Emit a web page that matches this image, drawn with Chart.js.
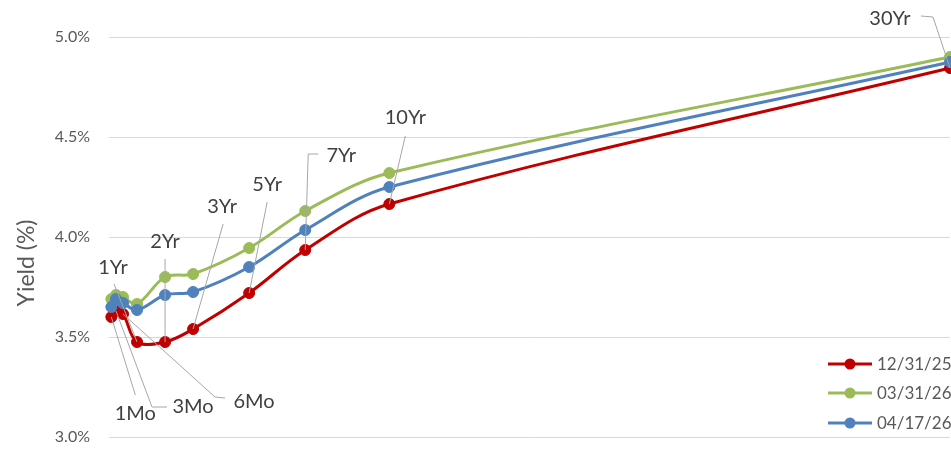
<!DOCTYPE html>
<html>
<head>
<meta charset="utf-8">
<script src="https://cdn.jsdelivr.net/npm/chart.js@4/dist/chart.umd.min.js"></script>
<style>
  html, body { margin: 0; padding: 0; background: #ffffff; }
  #wrap { position: relative; width: 951px; height: 473px; }
</style>
</head>
<body>
<div id="wrap"><canvas id="curve"></canvas></div>
<script>
// Treasury yield curve: maturity (years) vs. yield (%)
const tenorLabels = ['1Mo', '3Mo', '6Mo', '1Yr', '2Yr', '3Yr', '5Yr', '7Yr', '10Yr', '30Yr'];
const tenorYears  = [1/12, 3/12, 6/12, 1, 2, 3, 5, 7, 10, 30];

const dateLabels = ['12/31/25', '03/31/26', '04/17/26'];
const yieldsDec31 = [3.60, 3.63, 3.615, 3.475, 3.475, 3.54, 3.72, 3.935, 4.165, 4.845];
const yieldsMar31 = [3.69, 3.71, 3.70, 3.665, 3.80, 3.815, 3.945, 4.13, 4.32, 4.90];
const yieldsApr17 = [3.65, 3.69, 3.67, 3.635, 3.71, 3.725, 3.85, 4.035, 4.25, 4.875];

const yTicks = [3.0, 3.5, 4.0, 4.5, 5.0];

const seriesColors = ['#C00000', '#9BBB59', '#4F81BD'];
const FONT = "Lato, 'Open Sans', 'DejaVu Sans', sans-serif";

function toPoints(values) {
  return values.map((v, i) => ({ x: tenorYears[i], y: v }));
}

// Where each tenor label sits relative to its 12/31/25 point (px),
// with the leader path drawn from the label back to the point.
const labelLayout = {
  '1Mo':  { text: [24, 97],   leader: [[24, 78]] },
  '3Mo':  { text: [77, 96],   leader: [[51, 96], [36, 96]] },
  '6Mo':  { text: [131, 88],  leader: [[102, 84], [92, 83]] },
  '1Yr':  { text: [-24, -74], leader: [[-23, -58]] },
  '2Yr':  { text: [0, -100],  leader: [[0, -83]] },
  '3Yr':  { text: [29, -122], leader: [[30, -105]] },
  '5Yr':  { text: [18, -108], leader: [[18, -91]] },
  '7Yr':  { text: [36, -94],  leader: [[13, -96], [3, -96]] },
  '10Yr': { text: [16, -86],  leader: [[16, -68]] },
  '30Yr': { text: [-60, -49], leader: [[-29, -52], [-17, -51]] }
};

const tenorLabelPlugin = {
  id: 'tenorLabels',
  afterDatasetsDraw(chart) {
    const { ctx } = chart;
    const xs = chart.scales.x, ys = chart.scales.y;
    ctx.save();
    tenorLabels.forEach((name, i) => {
      const px = xs.getPixelForValue(tenorYears[i]);
      const py = ys.getPixelForValue(yieldsDec31[i]);
      const lay = labelLayout[name];
      // leader line
      ctx.beginPath();
      ctx.strokeStyle = '#a6a6a6';
      ctx.lineWidth = 1;
      lay.leader.forEach((p, k) => {
        if (k === 0) ctx.moveTo(px + p[0], py + p[1]);
        else ctx.lineTo(px + p[0], py + p[1]);
      });
      ctx.lineTo(px, py);
      ctx.stroke();
      // label
      ctx.fillStyle = '#404040';
      ctx.font = '20px ' + FONT;
      ctx.textAlign = 'center';
      ctx.textBaseline = 'middle';
      ctx.fillText(name, px + lay.text[0], py + lay.text[1]);
    });
    ctx.restore();
  }
};

// Legend in the lower-right corner of the plot, plus the y-axis title
const decorPlugin = {
  id: 'decor',
  afterDraw(chart) {
    const { ctx, chartArea } = chart;
    ctx.save();
    const rowY = [chartArea.bottom - 73, chartArea.bottom - 44, chartArea.bottom - 14];
    const x0 = chartArea.right - 122;
    dateLabels.forEach((lbl, i) => {
      const y = rowY[i];
      ctx.strokeStyle = seriesColors[i];
      ctx.lineWidth = 3;
      ctx.beginPath();
      ctx.moveTo(x0, y);
      ctx.lineTo(x0 + 44, y);
      ctx.stroke();
      ctx.fillStyle = seriesColors[i];
      ctx.beginPath();
      ctx.arc(x0 + 22, y, 5.5, 0, Math.PI * 2);
      ctx.fill();
      ctx.fillStyle = '#595959';
      ctx.font = '17px ' + FONT;
      ctx.textAlign = 'left';
      ctx.textBaseline = 'middle';
      ctx.fillText(lbl, x0 + 49, y + 1);
    });
    // axis title
    ctx.translate(27, (chartArea.top + chartArea.bottom) / 2 + 26);
    ctx.rotate(-Math.PI / 2);
    ctx.fillStyle = '#595959';
    ctx.font = '23px ' + FONT;
    ctx.textAlign = 'center';
    ctx.textBaseline = 'middle';
    ctx.fillText('Yield (%)', 0, 0);
    ctx.restore();
  }
};

const series = [yieldsDec31, yieldsMar31, yieldsApr17];
const datasets = series.map((vals, i) => ({
  label: dateLabels[i],
  data: toPoints(vals),
  borderColor: seriesColors[i],
  backgroundColor: seriesColors[i],
  pointBackgroundColor: seriesColors[i],
  pointBorderColor: seriesColors[i],
  borderWidth: 3,
  pointRadius: 5.5,
  pointBorderWidth: 1,
  pointHoverRadius: 5.5,
  tension: 0.35,
  clip: false,
  order: 2 - i
}));

new Chart(document.getElementById('curve'), {
  type: 'line',
  data: { datasets },
  options: {
    responsive: true,
    maintainAspectRatio: false,
    animation: false,
    layout: { autoPadding: false, padding: { left: 0, right: 1, top: 37, bottom: 36 } },
    plugins: {
      legend: { display: false },
      tooltip: { enabled: false },
      title: { display: false }
    },
    scales: {
      x: {
        type: 'linear',
        min: 0,
        max: 30,
        display: false
      },
      y: {
        min: 3.0,
        max: 5.0,
        afterFit(scale) { scale.width = 109; },
        afterBuildTicks(scale) { scale.ticks = yTicks.map(v => ({ value: v })); },
        border: { display: false },
        grid: { color: '#d9d9d9', lineWidth: 1, drawTicks: false },
        ticks: {
          padding: 19,
          color: '#595959',
          font: { family: FONT, size: 16 },
          callback: v => v.toFixed(1) + '%'
        }
      }
    }
  },
  plugins: [tenorLabelPlugin, decorPlugin]
});
</script>
</body>
</html>
